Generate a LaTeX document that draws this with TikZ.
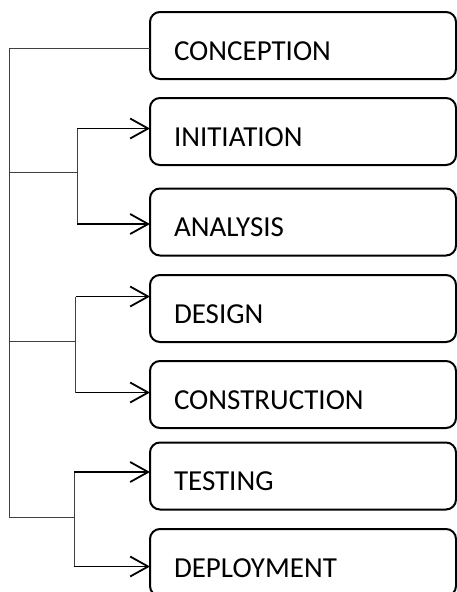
\documentclass[tikz,border=0pt]{standalone}
\usepackage{fontspec}
\setmainfont{Carlito}
\usetikzlibrary{arrows.meta}

\begin{document}
\begin{tikzpicture}[x=1pt, y=-1pt,
	every node/.style={font=\fontsize{29}{34}\selectfont},
	phase/.style={draw, line width=2pt, rounded corners=10pt, outer sep=0pt, text width=258pt, inner xsep=24pt, align=left, minimum height=67pt, text height=29pt, text depth=0pt},
	link/.style={line width=1pt, black!75},
	arr/.style={line width=1.8pt, -{Straight Barb[length=18pt, width=20pt, line width=1.8pt]}}]
	\useasboundingbox (0,0) rectangle (457,592);
	\foreach \n/\t/\y in {concep/CONCEPTION/45.5, init/INITIATION/131.5, analys/ANALYSIS/222, design/DESIGN/308.5, constr/CONSTRUCTION/394.5, testing/TESTING/476, deploy/DEPLOYMENT/562.5} {
		\node[phase] (\n) at (303,\y) {\t};
	}
	\coordinate (trunk) at (9,517.3);
	\coordinate (j1) at (77,172.3);
	\coordinate (j2) at (75.7,341.7);
	\coordinate (j3) at (74,517.3);
	\draw[link] ([yshift=-3pt]concep.west) -| (trunk) -- (j3);
	\foreach \j in {j1,j2} {\draw[link] (\j -| trunk) -- (\j);}
	\foreach \j/\n/\s in {j1/init/3, j1/analys/-2, j2/design/12, j2/constr/2, j3/testing/4, j3/deploy/-4} {
		\coordinate (p-\n) at ([yshift=\s pt]\n.west);
		\draw[link] (\j) -- (\j |- p-\n);
		\draw[arr] (\j |- p-\n) -- (p-\n);
	}
\end{tikzpicture}
\end{document}
